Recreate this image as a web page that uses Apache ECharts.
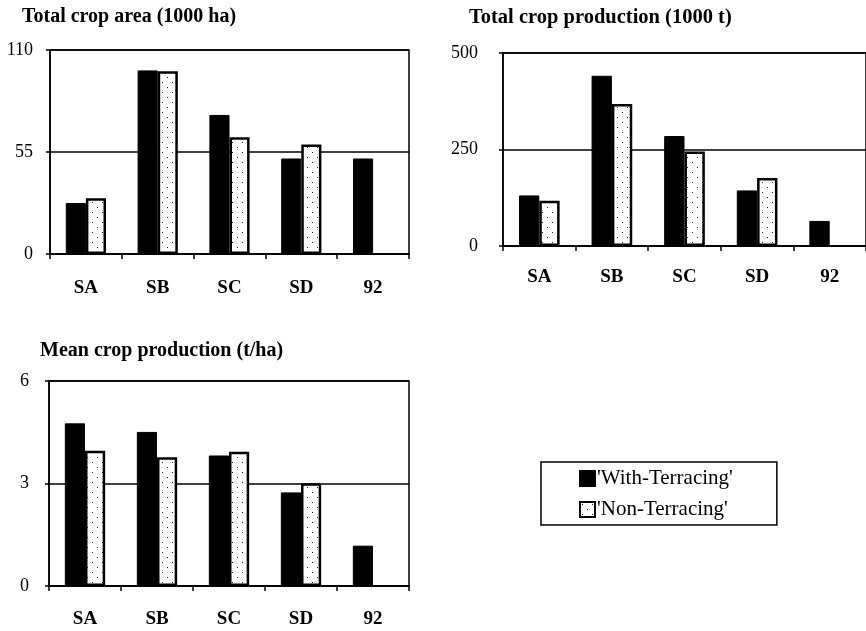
<!DOCTYPE html>
<html>
<head>
<meta charset="utf-8">
<script src="https://cdn.jsdelivr.net/npm/echarts@6/dist/echarts.min.js"></script>
<style>
html,body{margin:0;padding:0;background:#fff;}
#chart{width:866px;height:631px;}
</style>
</head>
<body>
<div id="chart"></div>
<script>
// ---- data ----
var categories = ['SA', 'SB', 'SC', 'SD', '92'];
var seriesNames = ["'With-Terracing'", "'Non-Terracing'"];
var titles = ['Total crop area (1000 ha)', 'Total crop production (1000 t)', 'Mean crop production (t/ha)'];

var areaWith = [27.5, 99, 75, 51.5, 51.5];
var areaNon  = [30, 98.5, 63, 59, null];
var prodWith = [131, 441, 285, 144, 65];
var prodNon  = [117, 368, 245, 176, null];
var meanWith = [4.76, 4.51, 3.82, 2.74, 1.18];
var meanNon  = [3.96, 3.77, 3.93, 3.01, null];

var yMax = [110, 500, 6];
var yInterval = [55, 250, 3];

// ---- dotted pattern ----
var pat = document.createElement('canvas');
pat.width = 10; pat.height = 10;
var pc = pat.getContext('2d');
pc.fillStyle = '#fff'; pc.fillRect(0, 0, 10, 10);
pc.fillStyle = '#222';
pc.fillRect(2, 2, 1, 1);
pc.fillRect(7, 7, 1, 1);

var FONT = '"Liberation Serif", "Times New Roman", serif';

var grids = [
  {left: 50, top: 50, width: 359, height: 204},
  {left: 503, top: 53, width: 370, height: 193},
  {left: 49, top: 381, width: 360, height: 205}
];
var xMargins = [25, 22, 24];
var yMargins = [17, 25, 20];
var titlePos = [{left: 22, top: 7}, {left: 469, top: 7}, {left: 40, top: 341}];
var titleSizes = [20, 20.5, 20];

var withData = [areaWith, prodWith, meanWith];
var nonData = [areaNon, prodNon, meanNon];

var option = {
  backgroundColor: '#fff',
  animation: false,
  textStyle: {fontFamily: FONT},
  title: titles.map(function (t, i) {
    return {
      text: t, left: titlePos[i].left, top: titlePos[i].top, padding: 0,
      textStyle: {fontFamily: FONT, fontSize: titleSizes[i], fontWeight: 'bold', color: '#000'}
    };
  }),
  grid: grids.map(function (g) {
    return Object.assign({show: true, borderColor: '#000', borderWidth: 1.5, backgroundColor: 'transparent'}, g);
  }),
  xAxis: grids.map(function (g, i) {
    return {
      type: 'category', gridIndex: i, data: categories,
      axisLine: {show: true, lineStyle: {color: '#000', width: 1.5}},
      axisTick: {show: true, length: 5, interval: 0, alignWithLabel: false, lineStyle: {color: '#000', width: 1.5}},
      axisLabel: {margin: xMargins[i], fontFamily: FONT, fontSize: 19, fontWeight: 'bold', color: '#000', interval: 0},
      splitLine: {show: false}
    };
  }),
  yAxis: grids.map(function (g, i) {
    return {
      type: 'value', gridIndex: i, min: 0, max: yMax[i], interval: yInterval[i],
      axisLine: {show: true, lineStyle: {color: '#000', width: 1.5}},
      axisTick: {show: true, length: 4, lineStyle: {color: '#000', width: 1.5}},
      axisLabel: {margin: yMargins[i], fontFamily: FONT, fontSize: 18, color: '#000'},
      splitLine: {show: true, lineStyle: {color: '#000', width: 1.5}}
    };
  }),
  legend: {
    orient: 'vertical',
    left: 541, top: 462,
    padding: [6, 44, 5, 38],
    icon: 'rect',
    itemWidth: 15, itemHeight: 15, itemGap: 10,
    borderColor: '#000', borderWidth: 1.5,
    backgroundColor: '#fff',
    data: seriesNames,
    textStyle: {fontFamily: FONT, fontSize: 21, color: '#000', padding: [0, 0, 0, -3]}
  },
  series: []
};

for (var i = 0; i < 3; i++) {
  option.series.push({
    name: seriesNames[0], type: 'bar', xAxisIndex: i, yAxisIndex: i,
    data: withData[i], barWidth: '28%', barGap: '0%',
    itemStyle: {color: '#000', borderColor: '#000', borderWidth: 1}
  });
  option.series.push({
    name: seriesNames[1], type: 'bar', xAxisIndex: i, yAxisIndex: i,
    data: nonData[i], barWidth: '28%', barGap: '0%',
    itemStyle: {color: {image: pat, repeat: 'repeat'}, borderColor: '#000', borderWidth: 2.5}
  });
}

var chart = echarts.init(document.getElementById('chart'), null, {renderer: 'canvas'});
chart.setOption(option);
</script>
</body>
</html>
